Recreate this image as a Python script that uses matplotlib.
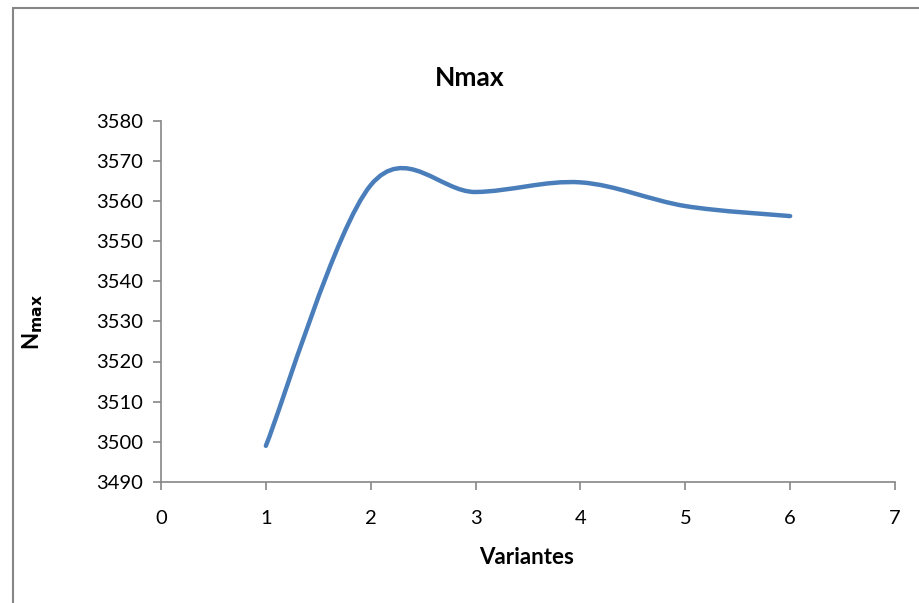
import matplotlib.pyplot as plt
import numpy as np
from matplotlib.patches import Rectangle
from matplotlib.path import Path
from matplotlib.patches import PathPatch

plt.rcParams['font.family'] = ['Lato', 'DejaVu Sans']

variants = [1, 2, 3, 4, 5, 6]
nmax = [3499.0, 3563.9, 3562.2, 3564.6, 3558.7, 3556.2]


def excel_smooth_path(x, y, tension=1 / 6):
    # Excel style smoothed line: cubic bezier, Catmull-Rom control points
    x = np.asarray(x, float)
    y = np.asarray(y, float)
    pts = np.column_stack([x, y])
    n = len(pts)
    verts = [pts[0]]
    codes = [Path.MOVETO]
    for i in range(n - 1):
        p0 = pts[i - 1] if i > 0 else pts[i]
        p1 = pts[i]
        p2 = pts[i + 1]
        p3 = pts[i + 2] if i + 2 < n else pts[i + 1]
        c1 = p1 + (p2 - p0) * tension
        c2 = p2 - (p3 - p1) * tension
        verts += [c1, c2, p2]
        codes += [Path.CURVE4] * 3
    return Path(verts, codes)


fig = plt.figure(figsize=(9.2, 6.03), dpi=100)
ax = fig.add_axes([161 / 920, 1 - 482 / 603, (895 - 161) / 920, (482 - 120.5) / 603])

line = PathPatch(excel_smooth_path(variants, nmax), facecolor='none',
                 edgecolor='#4A7EBB', lw=3.2, capstyle='round', joinstyle='round')
ax.add_patch(line)

ax.set_xlim(0, 7)
ax.set_ylim(3490, 3580)
ax.set_xticks(range(0, 8))
ax.set_yticks(range(3490, 3581, 10))

gray = '#868686'
for s in ['top', 'right']:
    ax.spines[s].set_visible(False)
for s in ['left', 'bottom']:
    ax.spines[s].set_color(gray)
    ax.spines[s].set_linewidth(1.2)
ax.tick_params(axis='both', colors=gray, labelcolor='black', labelsize=14.5,
               length=6, width=1.2, direction='out')
ax.tick_params(axis='x', pad=14)
ax.tick_params(axis='y', pad=7)

fig.text(470 / 920, 1 - 78 / 603, 'Nmax', ha='center', va='center',
         fontsize=19, fontweight='bold')
fig.text(527 / 920, 1 - 557 / 603, 'Variantes', ha='center', va='center',
         fontsize=16, fontweight='bold')
fig.text(33 / 920, 1 - 322 / 603, r'N$_{\mathbf{max}}$', ha='center', va='center',
         fontsize=16, fontweight='bold', rotation=90)

# chart area border
fig.patches.append(Rectangle((13 / 920, -0.1), 1.0, 1 - 8 / 603 + 0.1,
                             transform=fig.transFigure, fill=False,
                             edgecolor=gray, lw=1.5))

fig.savefig('out.png', dpi=100)
